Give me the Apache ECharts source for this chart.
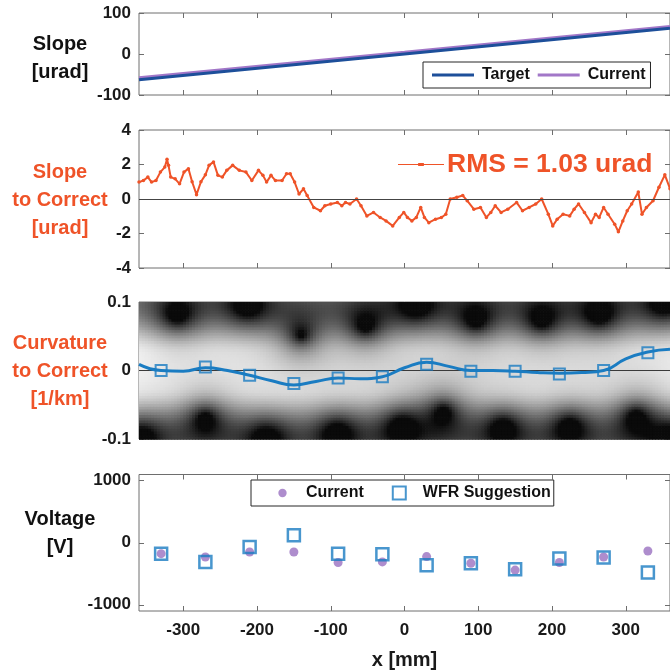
<!DOCTYPE html>
<html>
<head>
<meta charset="utf-8">
<script src="https://cdn.jsdelivr.net/npm/echarts@6/dist/echarts.min.js"></script>
<style>
  html, body { margin: 0; padding: 0; background: #fff; }
  #chart { width: 670px; height: 671px; }
</style>
</head>
<body>
<div id="chart"></div>
<script>
// ---- shared position axis (mm) ----
const xTicks = [-300, -200, -100, 0, 100, 200, 300];

// ---- slope profiles [urad] ----
const slopeX = [-360, 0, 360];
const targetSlope = [-63, 0, 63];
const currentSlope = [-58, 4, 67];

// ---- slope still to correct [urad] ----
const corrX = [-360, -354, -348, -343, -337, -331, -325, -322, -320, -317, -311, -305, -299, -293, -288, -282,
  -276, -270, -265, -259, -253, -247, -241, -233, -224, -215, -207, -198, -192, -187, -181, -175, -166, -160,
  -155, -149, -143, -137, -132, -123, -114, -108, -100, -91, -85, -80, -74, -65, -59, -51, -42, -33, -25, -16,
  -7, -1, 4, 10, 16, 22, 27, 33, 42, 50, 56, 62, 71, 79, 85, 94, 103, 111, 117, 123, 131, 140, 152, 160, 169,
  178, 186, 195, 201, 207, 215, 224, 230, 236, 244, 253, 259, 264, 270, 276, 285, 290, 296, 302, 308, 317, 322,
  328, 337, 345, 353, 360];
const corrY = [0.98, 1.07, 1.27, 0.98, 1.07, 1.56, 1.85, 2.3, 1.95, 1.27, 1.17, 0.88, 1.56, 1.76, 1.0, 0.25,
  1.0, 1.4, 1.95, 2.15, 1.37, 1.27, 1.66, 1.95, 1.66, 1.56, 1.07, 1.66, 1.37, 0.98, 1.37, 1.07, 1.07, 1.46,
  1.46, 0.98, 0.29, 0.59, 0.2, -0.49, -0.68, -0.39, -0.29, -0.2, -0.39, -0.2, -0.29, 0.0, -0.39, -0.98, -0.78,
  -1.07, -1.27, -1.56, -1.07, -0.78, -1.07, -1.27, -1.07, -0.49, -1.07, -1.37, -1.17, -1.07, -0.88, 0.0, 0.1,
  0.2, -0.1, -0.59, -0.49, -1.07, -0.78, -0.39, -0.78, -0.59, -0.2, -0.68, -0.49, -0.29, 0.0, -0.88, -1.56,
  -1.17, -0.88, -0.98, -0.59, -0.29, -0.78, -1.37, -0.88, -1.07, -0.49, -0.88, -1.46, -1.9, -1.27, -0.68,
  -0.29, 0.4, -0.88, -0.49, -0.1, 0.68, 1.4, 0.6];

// ---- curvature to correct [1/km] ----
const curvX = [-360, -330, -300, -270, -240, -210, -180, -150, -120, -90, -60, -30, 0, 30, 60, 90, 120, 150,
  180, 210, 240, 270, 300, 330, 360];
const curvY = [0.009, 0.0, -0.001, 0.004, 0.0, -0.007, -0.015, -0.021, -0.016, -0.011, -0.012, -0.009, 0.004,
  0.012, 0.006, 0.0, 0.0, -0.001, -0.003, -0.004, -0.003, 0.0, 0.017, 0.027, 0.031];
const actuatorX = [-330, -270, -210, -150, -90, -30, 30, 90, 150, 210, 270, 330];
const curvAtActuator = [0.0, 0.005, -0.007, -0.019, -0.011, -0.009, 0.009, -0.001, -0.001, -0.005, 0.0, 0.026];

// dark spots of the background map (x mm, curvature 1/km)
const spotX = [-308, -213, -140, -53, 16, 97, 186, 264, 352,
  -357, -270, -187, -91, -4, 53, 134, 224, 314, 365];
const spotY = [0.082, 0.097, 0.052, 0.065, 0.098, 0.074, 0.074, 0.082, 0.1,
  -0.098, -0.069, -0.1, -0.091, -0.081, -0.059, -0.083, -0.081, -0.066, -0.1];

// ---- actuator voltages [V] ----
const voltCurrent = [-176, -229, -149, -149, -319, -309, -223, -330, -441, -319, -229, -133];
const voltWFR = [-176, -309, -69, 122, -176, -186, -362, -330, -426, -255, -239, -479];

// ---- colours ----
const ORANGE = '#ef5328';
const BLUE = '#1a7cc2';
const DARKBLUE = '#1d4f9a';
const PURPLE = '#a277c8';
const FRAME = '#6e6e6e';
const FONT = '"Liberation Sans", Arial, sans-serif';

const zip = (xs, ys) => xs.map((x, i) => [x, ys[i]]);

// grid rectangles
const GL = 139, GW = 532;
const grids = [
  { top: 13, height: 82 },
  { top: 130, height: 138 },
  { top: 302, height: 137 },
  { top: 474.5, height: 137 }
];

// background map cells: shading darkens toward the panel edges and around each dark spot
const cellW = 4, cellH = 0.004;
const smooth01 = (a, b, v) => {
  const t = Math.min(1, Math.max(0, (v - a) / (b - a)));
  return t * t * (3 - 2 * t);
};
const mapCells = [];
for (let x = -360; x < 360; x += cellW) {
  for (let k = 0; k < 50; k++) {
    const y = -0.1 + k * cellH;
    const cx = x + cellW / 2, cy = y + cellH / 2;
    let dark = 0.5 * smooth01(0.025, 0.1, Math.abs(cy));
    for (let s = 0; s < spotX.length; s++) {
      const dx = (cx - spotX[s]) * GW / 720;
      const dy = (cy - spotY[s]) * 137 / 0.2;
      dark += 0.9 * Math.exp(-Math.hypot(dx, dy) / 19);
    }
    const t = Math.max(0, 1 - dark);
    mapCells.push([x, y, Math.round(10 + 245 * t)]);
  }
}

const xAxes = [];
const yAxes = [];
grids.forEach((g, i) => {
  const last = i === 3;
  xAxes.push({
    type: 'value', gridIndex: i, min: -360, max: 360, position: 'bottom',
    axisLine: { show: false, onZero: false }, splitLine: { show: false },
    axisTick: { inside: true, length: 5, customValues: xTicks, lineStyle: { color: FRAME } },
    axisLabel: { show: last, customValues: xTicks, margin: 11, color: '#1a1a1a',
      fontFamily: FONT, fontWeight: 'bold', fontSize: 17 },
    name: last ? 'x [mm]' : '', nameLocation: 'middle', nameGap: 39,
    nameTextStyle: { color: '#1a1a1a', fontFamily: FONT, fontWeight: 'bold', fontSize: 20 }
  });
  xAxes.push({
    type: 'value', gridIndex: i, min: -360, max: 360, position: 'top',
    axisLine: { show: false, onZero: false }, splitLine: { show: false }, axisLabel: { show: false },
    axisTick: { inside: true, length: 5, customValues: xTicks, lineStyle: { color: FRAME } }
  });
});

const yDefs = [
  { min: -100, max: 100, interval: 100 },
  { min: -4, max: 4, interval: 2 },
  { min: -0.1, max: 0.1, interval: 0.1 },
  { min: -1100, max: 1100, ticks: [-1000, 0, 1000] }
];
yDefs.forEach((d, i) => {
  const common = { type: 'value', gridIndex: i, min: d.min, max: d.max, splitLine: { show: false },
    axisLine: { show: false, onZero: false } };
  if (d.interval) common.interval = d.interval;
  const tick = { inside: true, length: 5, lineStyle: { color: FRAME } };
  if (d.ticks) tick.customValues = d.ticks;
  const lab = { margin: 8, color: '#1a1a1a', fontFamily: FONT, fontWeight: 'bold', fontSize: 17,
    formatter: v => String(v) };
  if (d.ticks) lab.customValues = d.ticks;
  yAxes.push(Object.assign({}, common, { position: 'left', axisTick: tick, axisLabel: lab }));
  yAxes.push(Object.assign({}, common, { position: 'right', axisTick: tick, axisLabel: { show: false } }));
});

const labelStyle = (text, y, color) => ({
  type: 'text', x: 60, y: y, silent: true,
  style: { text: text, fill: color, font: 'bold 20px ' + FONT, textAlign: 'center',
    textVerticalAlign: 'middle', lineHeight: 28 }
});

// legend glyphs
const ICON_DOTLINE = 'path://M0,4H21V3H27V4H48V5H27V6H21V5H0Z';
const ICON_DOT = 'path://M0,0M14,14M2.5,7a4.5,4.5 0 1,0 9,0a4.5,4.5 0 1,0 -9,0Z';

const chart = echarts.init(document.getElementById('chart'), null, { renderer: 'canvas' });
chart.setOption({
  animation: false,
  backgroundColor: '#fff',
  grid: grids.map(g => ({ left: GL, width: GW, top: g.top, height: g.height, show: true,
    borderColor: FRAME, borderWidth: 1, backgroundColor: 'transparent', containLabel: false })),
  xAxis: xAxes,
  yAxis: yAxes,
  graphic: [
    labelStyle('Slope\n[urad]', 58, '#111'),
    labelStyle('Slope\nto Correct\n[urad]', 200, ORANGE),
    labelStyle('Curvature\nto Correct\n[1/km]', 371, ORANGE),
    labelStyle('Voltage\n[V]', 533, '#111')
  ],
  legend: [
    {
      data: [{ name: 'Target', icon: 'rect' }, { name: 'Current', icon: 'rect' }],
      left: 423, top: 62, orient: 'horizontal',
      borderColor: '#262626', borderWidth: 1, backgroundColor: '#fff', padding: [5, 5, 5, 9],
      itemGap: 8, itemWidth: 42, itemHeight: 3, selectedMode: false,
      textStyle: { fontFamily: FONT, fontWeight: 'bold', fontSize: 16, color: '#111', padding: [0, 0, 0, 3] }
    },
    {
      data: [{ name: 'RMS = 1.03 urad', icon: ICON_DOTLINE }], left: 398, top: 151, selectedMode: false,
      itemWidth: 46, itemHeight: 4, padding: 0,
      textStyle: { fontFamily: FONT, fontWeight: 'bold', fontSize: 26.5, color: ORANGE, padding: [0, 0, 0, -2] }
    },
    {
      data: [{ name: 'Current (V)', icon: ICON_DOT }, { name: 'WFR Suggestion', icon: 'rect' }],
      left: 251, top: 480, selectedMode: false,
      borderColor: '#262626', borderWidth: 1, backgroundColor: '#fff', padding: [5, 3, 5, 25],
      itemGap: 28, itemWidth: 13, itemHeight: 13,
      formatter: n => n.replace(' (V)', ''),
      textStyle: { fontFamily: FONT, fontWeight: 'bold', fontSize: 16, color: '#111', padding: [0, 0, 0, 12] }
    }
  ],
  series: [
    {
      name: 'Target', type: 'line', xAxisIndex: 0, yAxisIndex: 0, data: zip(slopeX, targetSlope),
      symbol: 'none', lineStyle: { color: DARKBLUE, width: 3 }, itemStyle: { color: DARKBLUE }, z: 3
    },
    {
      name: 'Current', type: 'line', xAxisIndex: 0, yAxisIndex: 0, data: zip(slopeX, currentSlope),
      symbol: 'none', lineStyle: { color: PURPLE, width: 3 }, itemStyle: { color: PURPLE }, z: 2
    },
    {
      name: 'RMS = 1.03 urad', type: 'line', xAxisIndex: 2, yAxisIndex: 2, data: zip(corrX, corrY),
      symbol: 'circle', symbolSize: 3.5, showSymbol: true,
      lineStyle: { color: ORANGE, width: 2 }, itemStyle: { color: ORANGE }, z: 3,
      markLine: { silent: true, symbol: 'none', label: { show: false },
        lineStyle: { color: '#444', width: 1.2, type: 'solid' }, data: [{ yAxis: 0 }] }
    },
    {
      name: 'map', type: 'custom', xAxisIndex: 4, yAxisIndex: 4, data: mapCells, silent: true, z: 1,
      clip: true,
      renderItem: (params, api) => {
        const x0 = api.value(0), y0 = api.value(1), g = api.value(2);
        const p0 = api.coord([x0, y0 + cellH]);
        const p1 = api.coord([x0 + cellW, y0]);
        return {
          type: 'rect',
          shape: { x: p0[0], y: p0[1], width: p1[0] - p0[0] + 0.7, height: p1[1] - p0[1] + 0.7 },
          style: { fill: 'rgb(' + g + ',' + g + ',' + g + ')' }
        };
      }
    },
    {
      name: 'zero', type: 'line', xAxisIndex: 4, yAxisIndex: 4, data: [[-360, 0], [360, 0]],
      symbol: 'none', lineStyle: { color: '#3a3a3a', width: 1.2 }, z: 2, silent: true
    },
    {
      name: 'curvature', type: 'line', xAxisIndex: 4, yAxisIndex: 4, data: zip(curvX, curvY),
      smooth: 0.5, symbol: 'none', lineStyle: { color: BLUE, width: 3 }, z: 3
    },
    {
      name: 'actuators', type: 'scatter', xAxisIndex: 4, yAxisIndex: 4, data: zip(actuatorX, curvAtActuator),
      symbol: 'rect', symbolSize: 11, z: 4,
      itemStyle: { color: 'rgba(0,0,0,0)', borderColor: BLUE, borderWidth: 2 }
    },
    {
      name: 'Current (V)', type: 'scatter', xAxisIndex: 6, yAxisIndex: 6, data: zip(actuatorX, voltCurrent),
      symbol: 'circle', symbolSize: 9, itemStyle: { color: '#9a70c0' }, z: 3
    },
    {
      name: 'WFR Suggestion', type: 'scatter', xAxisIndex: 6, yAxisIndex: 6, data: zip(actuatorX, voltWFR),
      symbol: 'rect', symbolSize: 12, z: 4,
      itemStyle: { color: 'rgba(0,0,0,0)', borderColor: BLUE, borderWidth: 2.5 }
    }
  ]
});
</script>
</body>
</html>
